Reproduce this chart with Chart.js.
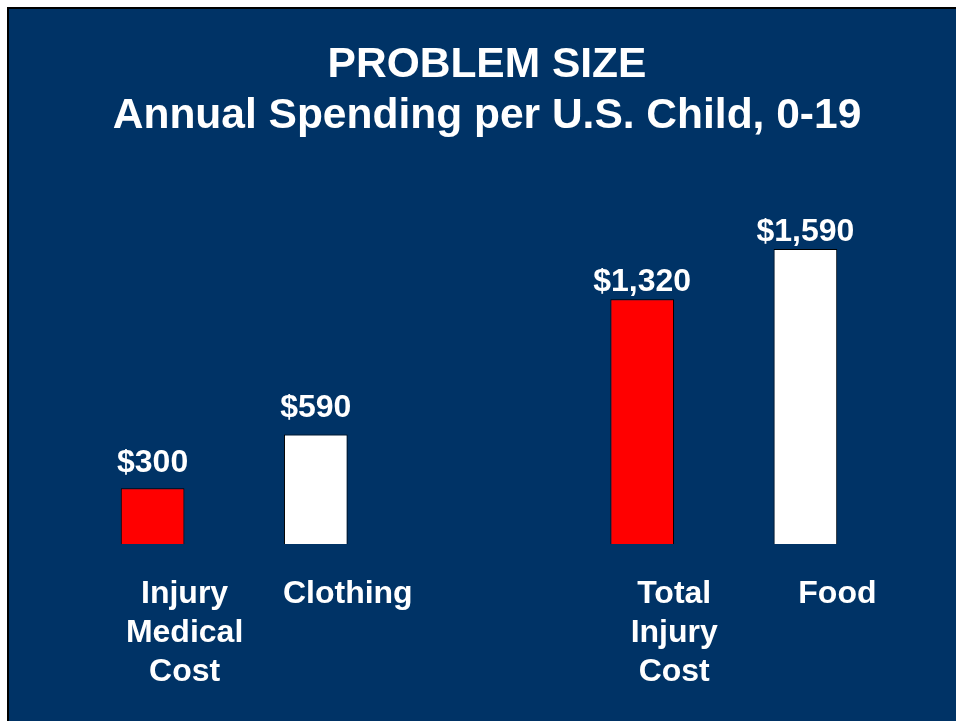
<!DOCTYPE html>
<html>
<head>
<meta charset="utf-8">
<script src="https://cdn.jsdelivr.net/npm/chart.js@4"></script>
<style>
    html, body { margin: 0; padding: 0; background: #fff; overflow: hidden; }
    #frame {
        position: absolute; left: 7px; top: 7px;
        width: 1000px; height: 800px;
        border: 2px solid #000; background: #003366;
    }
    #chart { position: absolute; left: 0; top: 0; }
</style>
</head>
<body>
<div id="frame"></div>
<canvas id="chart" width="956" height="721"></canvas>
<script>
const FONT = '"Liberation Sans", Arial, sans-serif'

const titleLines = ['PROBLEM SIZE', 'Annual Spending per U.S. Child, 0-19']
const categories = [['Injury', 'Medical', 'Cost'], 'Clothing', '', ['Total', 'Injury', 'Cost'], 'Food']
const spending = [300, 590, null, 1320, 1590]
const barColors = ['#ff0000', '#ffffff', '#ffffff', '#ff0000', '#ffffff']

// gap (px) between each value label and its bar top, as placed on the slide
const labelGaps = [16, 18, 0, 8, 8]

// title drawn by hand so it can sit centred on the slide, not the plot
const slideTitle = {
    id: 'slideTitle',
    afterDraw(chart) {
        const ctx = chart.ctx
        ctx.save()
        ctx.fillStyle = '#fff'
        ctx.font = 'bold 42.5px ' + FONT
        ctx.textAlign = 'center'
        ctx.textBaseline = 'alphabetic'
        ctx.fillText(titleLines[0], 487, 77)
        ctx.fillText(titleLines[1], 487, 128)
        ctx.restore()
    }
}

const valueLabels = {
    id: 'valueLabels',
    afterDatasetsDraw(chart) {
        const ctx = chart.ctx
        const meta = chart.getDatasetMeta(0)
        ctx.save()
        ctx.fillStyle = '#fff'
        ctx.font = 'bold 32px ' + FONT
        ctx.textAlign = 'center'
        ctx.textBaseline = 'alphabetic'
        meta.data.forEach((bar, i) => {
            const v = spending[i]
            if (v == null) return
            ctx.fillText('$' + v.toLocaleString('en-US'), bar.x, bar.y - labelGaps[i])
        })
        ctx.restore()
    }
}

new Chart(document.getElementById('chart'), {
    type: 'bar',
    data: {
        labels: categories,
        datasets: [{
            data: spending,
            backgroundColor: barColors,
            borderColor: '#000',
            borderWidth: 1,
            categoryPercentage: 1,
            barPercentage: 0.39,
        }]
    },
    options: {
        responsive: false,
        animation: false,
        devicePixelRatio: 1,
        layout: { padding: { left: 71, right: 69, top: 173, bottom: 0 } },
        plugins: {
            legend: { display: false },
            title: { display: false },
            tooltip: { enabled: false },
        },
        scales: {
            x: {
                grid: { display: false, drawTicks: false },
                border: { display: false },
                afterFit: (axis) => { axis.height = 177 },
                ticks: {
                    color: '#fff',
                    font: { family: FONT, size: 32, weight: 'bold', lineHeight: 1.22 },
                    padding: 31,
                    labelOffset: 32,
                    maxRotation: 0,
                    autoSkip: false,
                }
            },
            y: {
                display: false,
                min: 0,
                max: 2000,
            }
        }
    },
    plugins: [slideTitle, valueLabels]
})
</script>
</body>
</html>
